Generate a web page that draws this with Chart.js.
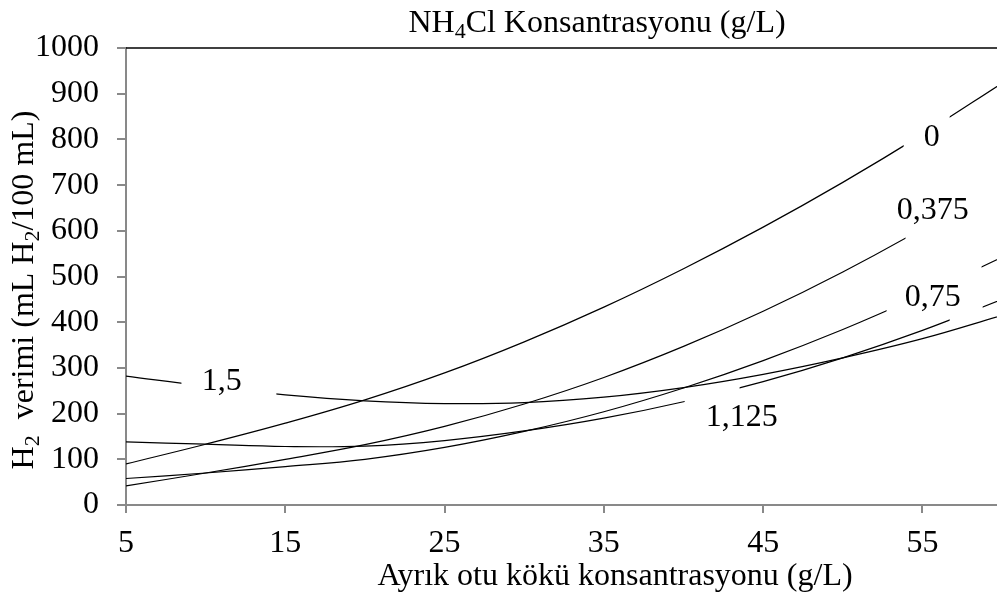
<!DOCTYPE html>
<html><head><meta charset="utf-8">
<script src="https://cdn.jsdelivr.net/npm/chart.js@4/dist/chart.umd.min.js"></script>
<style>html,body{margin:0;padding:0;background:#fff}#wrap{width:997px;height:599px}</style>
</head><body><div id="wrap"><canvas id="c" width="997" height="599"></canvas></div>
<script>
// ---- data ----
const xValues    = [5, 10, 15, 20, 25, 30, 35, 40, 45, 50, 55, 60];
const series0    = [90, 133, 179, 230, 289, 357, 433, 517, 608, 706, 811, 923];
const series0375 = [42, 70, 100, 132, 172, 221, 279, 347, 424, 510, 605, 709];
const series075  = [58, 70, 84, 100, 126, 161, 204, 256, 316, 384, 460, 542];
const series1125 = [138, 133, 128, 129, 141, 162, 190, 226, 270, 322, 382, 450];
const series15   = [282, 260, 241, 228, 222, 224, 236, 257, 286, 322, 364, 415];
const seriesNames = ['0', '0,375', '0,75', '1,125', '1,5'];
const xTicks = [5, 15, 25, 35, 45, 55];
const yTicks = [0, 100, 200, 300, 400, 500, 600, 700, 800, 900, 1000];

// ---- label placement (data coordinates) and line gaps ----
const labelPlacement = [
  {x: 55.58, y: 804, gaps: [[53.82, 56.71]]},
  {x: 55.64, y: 644, gaps: [[53.94, 70]]},
  {x: 55.64, y: 454, gaps: [[52.75, 58.71]]},
  {x: 43.65, y: 192, gaps: [[40.07, 43.52], [56.71, 58.78]]},
  {x: 11.01, y: 271, gaps: [[8.48, 14.44]]}
];

const FONT = '"Liberation Serif", "Times New Roman", serif';
const allSeries = [series0, series0375, series075, series1125, series15];

const datasets = allSeries.map((s, i) => ({
  label: seriesNames[i],
  data: xValues.map((x, j) => ({x: x, y: s[j]})),
  borderColor: '#000',
  borderWidth: 1.2,
  pointRadius: 0,
  tension: 0.4,
  fill: false
}));

function drawRich(ctx, parts, x, y, size) {
  const subSize = Math.round(size * 0.68);
  let total = 0;
  parts.forEach(p => {
    ctx.font = (p.sub ? subSize : size) + 'px ' + FONT;
    p.w = ctx.measureText(p.t).width;
    total += p.w;
  });
  let cx = x - total / 2;
  ctx.textAlign = 'left';
  ctx.textBaseline = 'alphabetic';
  parts.forEach(p => {
    ctx.font = (p.sub ? subSize : size) + 'px ' + FONT;
    ctx.fillText(p.t, cx, y + (p.sub ? size * 0.2 : 0));
    cx += p.w;
  });
}

const gapPlugin = {
  id: 'gaps',
  beforeDatasetDraw(chart, args) {
    const ctx = chart.ctx, a = chart.chartArea, xs = chart.scales.x;
    const gaps = labelPlacement[args.index].gaps;
    ctx.save();
    ctx.beginPath();
    let start = a.left - 5;
    gaps.forEach(g => {
      const g1 = xs.getPixelForValue(g[0]), g2 = xs.getPixelForValue(g[1]);
      ctx.rect(start, a.top - 5, g1 - start, a.bottom - a.top + 10);
      start = g2;
    });
    if (start < a.right + 5) ctx.rect(start, a.top - 5, a.right + 5 - start, a.bottom - a.top + 10);
    ctx.clip();
  },
  afterDatasetDraw(chart) { chart.ctx.restore(); }
};

const decorPlugin = {
  id: 'decor',
  afterDraw(chart) {
    const ctx = chart.ctx, a = chart.chartArea, xs = chart.scales.x, ys = chart.scales.y;
    ctx.save();
    ctx.strokeStyle = '#000';
    ctx.lineWidth = 1.5;
    ctx.beginPath();
    ctx.moveTo(a.left, a.top);
    ctx.lineTo(a.right, a.top);
    ctx.stroke();
    ctx.fillStyle = '#000';
    ctx.font = '32px ' + FONT;
    ctx.textAlign = 'center';
    ctx.textBaseline = 'middle';
    labelPlacement.forEach((l, i) => {
      ctx.fillText(seriesNames[i], xs.getPixelForValue(l.x), ys.getPixelForValue(l.y));
    });
    drawRich(ctx, [{t: 'NH'}, {t: '4', sub: true}, {t: 'Cl Konsantrasyonu (g/L)'}], 597, 32, 32);
    drawRich(ctx, [{t: 'Ayrık otu kökü konsantrasyonu (g/L)'}], 615, 585, 32);
    ctx.translate(33, 290);
    ctx.rotate(-Math.PI / 2);
    drawRich(ctx, [{t: 'H'}, {t: '2', sub: true}, {t: '  verimi (mL H'}, {t: '2', sub: true}, {t: '/100 mL)'}], 0, 0, 32);
    ctx.restore();
  }
};

new Chart(document.getElementById('c'), {
  type: 'line',
  data: {datasets: datasets},
  plugins: [gapPlugin, decorPlugin],
  options: {
    responsive: false,
    devicePixelRatio: 1,
    animation: false,
    layout: {padding: {top: 48, left: 0, right: 0, bottom: 0}},
    plugins: {legend: {display: false}, tooltip: {enabled: false}, title: {display: false}},
    scales: {
      x: {
        type: 'linear', min: 5, max: 59.68,
        afterBuildTicks: s => { s.ticks = xTicks.map(v => ({value: v})); },
        afterFit: s => { s.height = 94; },
        ticks: {font: {family: FONT, size: 32}, color: '#000', padding: 11, maxRotation: 0, autoSkip: false,
                callback: v => String(v)},
        grid: {drawOnChartArea: false, drawTicks: true, tickLength: 8, color: '#898989', lineWidth: 2},
        border: {color: '#898989', width: 2}
      },
      y: {
        type: 'linear', min: 0, max: 1000,
        afterBuildTicks: s => { s.ticks = yTicks.map(v => ({value: v})); },
        afterFit: s => { s.width = 126; },
        ticks: {font: {family: FONT, size: 32}, color: '#000', padding: 18, autoSkip: false,
                callback: v => String(v)},
        grid: {drawOnChartArea: false, drawTicks: true, tickLength: 9, color: '#898989', lineWidth: 2},
        border: {color: '#898989', width: 2}
      }
    }
  }
});
</script></body></html>
